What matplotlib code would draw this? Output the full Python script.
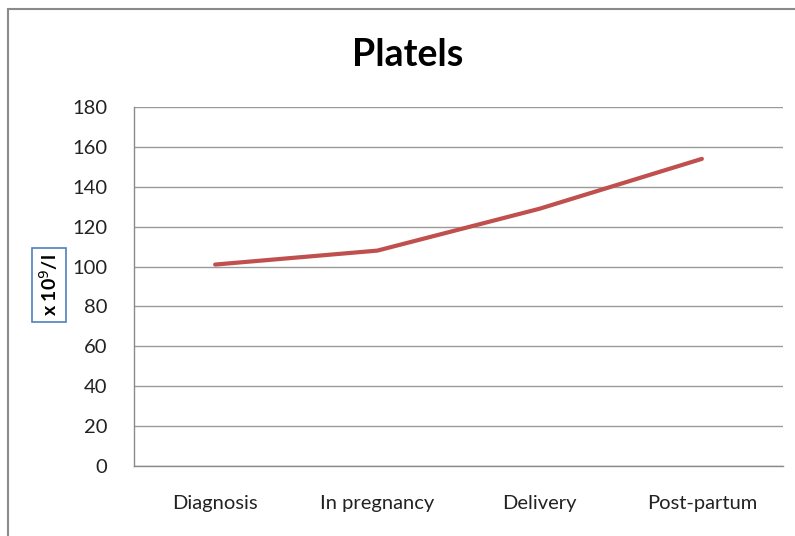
import matplotlib.pyplot as plt
from matplotlib.patches import Rectangle

categories = ["Diagnosis", "In pregnancy", "Delivery", "Post-partum"]
platelets = [101, 108, 129, 154]
y_ticks = [0, 20, 40, 60, 80, 100, 120, 140, 160, 180]

plt.rcParams['font.family'] = ['Lato', 'DejaVu Sans']

fig = plt.figure(figsize=(7.95, 5.36), dpi=100)
ax = fig.add_axes([134 / 795, 70 / 536, 649 / 795, 359 / 536])

# outer chart border
fig.patches.append(Rectangle((8 / 795, -0.05), 1.1, (536 - 9) / 536 + 0.05,
                             transform=fig.transFigure, fill=False,
                             edgecolor="#8a8a8a", linewidth=1.5))

x = range(len(categories))
ax.plot(x, platelets, color="#c0504d", linewidth=3, solid_capstyle="round")

ax.set_xlim(-0.5, len(categories) - 0.5)
ax.set_ylim(0, 180)
ax.set_yticks(y_ticks)
ax.set_xticks(list(x))
ax.set_xticklabels(categories)
ax.tick_params(axis="both", length=0, labelsize=14.5, colors="#222222")
ax.tick_params(axis="y", pad=19)
ax.tick_params(axis="x", pad=21)

ax.grid(axis="y", color="#9a9a9a", linewidth=1)
ax.set_axisbelow(True)
for side in ["top", "right"]:
    ax.spines[side].set_visible(False)
for side in ["left", "bottom"]:
    ax.spines[side].set_color("#8a8a8a")
    ax.spines[side].set_linewidth(1)

fig.text(408 / 795, 1 - 55 / 536, "Platels", ha="center", va="center",
         fontsize=27, fontweight="bold")

fig.text(49 / 795, 1 - 285 / 536, "x 10$^{9}$/l", rotation=90, ha="center",
         va="center", fontsize=14, fontweight="bold",
         bbox=dict(boxstyle="square,pad=0.3", facecolor="white",
                   edgecolor="#4f81bd", linewidth=1.2))

plt.savefig("out.png")
